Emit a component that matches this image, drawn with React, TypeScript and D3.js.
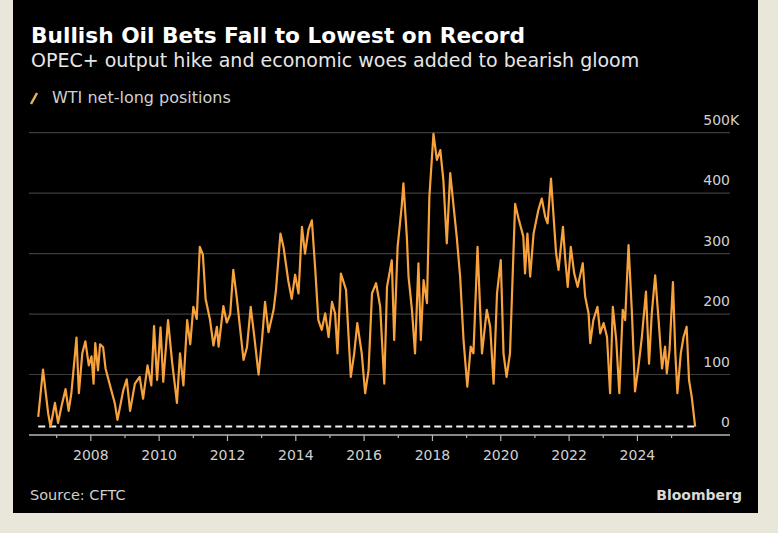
import React from "react";
import * as d3 from "d3";

const title = "Bullish Oil Bets Fall to Lowest on Record";
const subtitle = "OPEC+ output hike and economic woes added to bearish gloom";
const legendLabel = "WTI net-long positions";
const source = "Source: CFTC";
const brand = "Bloomberg";

const years = [
  2006.46, 2006.6, 2006.75, 2006.82, 2006.95, 2007.04, 2007.14, 2007.26, 2007.35, 2007.43,
  2007.58, 2007.65, 2007.75, 2007.84, 2007.94, 2008.02, 2008.08, 2008.13, 2008.21, 2008.27,
  2008.36, 2008.43, 2008.57, 2008.7, 2008.78, 2008.95, 2009.05, 2009.15, 2009.29, 2009.43,
  2009.53, 2009.66, 2009.77, 2009.85, 2009.94, 2010.04, 2010.12, 2010.26, 2010.38, 2010.47,
  2010.52, 2010.61, 2010.71, 2010.82, 2010.91, 2011.0, 2011.1, 2011.19, 2011.28, 2011.36,
  2011.49, 2011.59, 2011.69, 2011.74, 2011.88, 2011.98, 2012.08, 2012.17, 2012.27, 2012.35,
  2012.47, 2012.57, 2012.68, 2012.78, 2012.91, 2013.01, 2013.1, 2013.2, 2013.35, 2013.42,
  2013.55, 2013.64, 2013.78, 2013.88, 2013.98, 2014.08, 2014.18, 2014.27, 2014.37, 2014.47,
  2014.57, 2014.66, 2014.76, 2014.86, 2014.96, 2015.06, 2015.15, 2015.22, 2015.32, 2015.47,
  2015.54, 2015.61, 2015.71, 2015.8, 2015.93, 2016.03, 2016.13, 2016.23, 2016.35, 2016.47,
  2016.59, 2016.67, 2016.81, 2016.88, 2016.98, 2017.1, 2017.15, 2017.25, 2017.3, 2017.4,
  2017.49, 2017.59, 2017.66, 2017.74, 2017.84, 2017.91, 2018.03, 2018.13, 2018.23, 2018.32,
  2018.42, 2018.52, 2018.61, 2018.71, 2018.81, 2018.91, 2019.02, 2019.12, 2019.2, 2019.32,
  2019.45, 2019.59, 2019.69, 2019.79, 2019.89, 2020.0, 2020.08, 2020.17, 2020.27, 2020.42,
  2020.52, 2020.66, 2020.71, 2020.78, 2020.86, 2020.96, 2021.1, 2021.2, 2021.3, 2021.37,
  2021.47, 2021.54, 2021.62, 2021.69, 2021.82, 2021.89, 2021.96, 2022.05, 2022.15, 2022.25,
  2022.4, 2022.47, 2022.57, 2022.62, 2022.71, 2022.83, 2022.91, 2023.01, 2023.11, 2023.2,
  2023.28, 2023.38, 2023.47, 2023.57, 2023.64, 2023.74, 2023.84, 2023.93, 2024.03, 2024.13,
  2024.25, 2024.34, 2024.42, 2024.52, 2024.62, 2024.72, 2024.81, 2024.86, 2024.94, 2025.04,
  2025.11, 2025.17, 2025.27, 2025.35, 2025.44, 2025.51, 2025.59, 2025.69,
];

const netLong = [
  30, 108, 36, 14, 53, 20, 47, 76, 40, 69,
  161, 69, 135, 155, 115, 130, 85, 152, 107, 150,
  145, 110, 80, 53, 25, 74, 92, 40, 85, 96,
  60, 115, 82, 180, 91, 178, 88, 190, 120, 78,
  53, 135, 82, 190, 150, 212, 192, 311, 298, 225,
  190, 148, 179, 146, 213, 186, 200, 273, 228, 186,
  124, 145, 212, 165, 100, 157, 220, 170, 207, 240,
  333, 311, 255, 225, 265, 234, 344, 300, 339, 355,
  273, 190, 174, 201, 162, 220, 201, 135, 267, 240,
  168, 96, 135, 185, 135, 69, 107, 234, 251, 212,
  85, 245, 289, 157, 311, 378, 416, 328, 262, 207,
  135, 284, 157, 256, 218, 394, 498, 455, 471, 421,
  317, 433, 383, 328, 262, 157, 80, 146, 135, 311,
  135, 207, 179, 85, 234, 289, 135, 96, 135, 382,
  358, 328, 267, 333, 262, 333, 372, 391, 361, 350,
  424, 366, 300, 273, 344, 289, 245, 311, 267, 245,
  284, 229, 201, 152, 190, 212, 168, 185, 162, 69,
  212, 157, 69, 207, 190, 314, 201, 72, 113, 162,
  237, 118, 201, 264, 190, 110, 146, 102, 140, 253,
  135, 69, 135, 162, 179, 91, 63, 14,
];

const yTicks = [0, 100, 200, 300, 400, 500];
const majorYears = [2008, 2010, 2012, 2014, 2016, 2018, 2020, 2022, 2024];
const minorYears = [2007, 2009, 2011, 2013, 2015, 2017, 2019, 2021, 2023, 2025];

const W = 778;
const H = 533;
const FONT = "'DejaVu Sans', sans-serif";
const ORANGE = "#f7a23c";

export default function App() {
  const x = d3.scaleLinear().domain([2006.19, 2026.71]).range([29, 730]);
  const y = d3.scaleLinear().domain([0, 500]).range([435, 132.6]);
  const pts = years.map((yr, i) => [yr, netLong[i]] as [number, number]);
  const line = d3
    .line<[number, number]>()
    .x((d) => x(d[0]))
    .y((d) => y(d[1]))
    .curve(d3.curveLinear);
  const lastVal = netLong[netLong.length - 1];
  const x0 = x(years[0]);
  const x1 = x(years[years.length - 1]);

  return (
    <div style={{ position: "fixed", left: 0, top: 0, width: W, height: H }}>
      <svg width={W} height={H} style={{ display: "block" }} fontFamily={FONT}>
        <rect x={0} y={0} width={W} height={H} fill="#e9e6da" />
        <rect x={13} y={0} width={745} height={513} fill="#000" />

        <text x={31} y={43} fill="#fff" fontSize={21.7} fontWeight="bold">
          {title}
        </text>
        <text x={31} y={67} fill="#e6e6e6" fontSize={19}>
          {subtitle}
        </text>

        <line x1={31} y1={104} x2={37} y2={93} stroke="#e3b25a" strokeWidth={2.5} />
        <text x={52} y={103} fill="#d0d0d0" fontSize={16}>
          {legendLabel}
        </text>

        {yTicks.map((t) => (
          <g key={t}>
            {t > 0 && (
              <line x1={29} x2={730} y1={y(t)} y2={y(t)} stroke="#3d3d3d" strokeWidth={1.2} />
            )}
            <text
              x={730}
              y={y(t) - 8}
              fill="#d0d0d0"
              fontSize={14}
              textAnchor="end"
            >
              {t}
            </text>
            {t === 500 && (
              <text x={730} y={y(t) - 8} fill="#d0d0d0" fontSize={14}>
                K
              </text>
            )}
          </g>
        ))}

        <line x1={29} x2={730} y1={y(0)} y2={y(0)} stroke="#b5b5b5" strokeWidth={1.5} />
        {majorYears.map((yr) => (
          <g key={yr}>
            <line x1={x(yr)} x2={x(yr)} y1={y(0)} y2={y(0) + 6} stroke="#b5b5b5" strokeWidth={1.2} />
            <text x={x(yr)} y={460} fill="#d0d0d0" fontSize={14} textAnchor="middle">
              {yr}
            </text>
          </g>
        ))}
        {minorYears.map((yr) => (
          <line key={yr} x1={x(yr)} x2={x(yr)} y1={y(0)} y2={y(0) + 3} stroke="#b5b5b5" strokeWidth={1.2} />
        ))}

        <line
          x1={x0}
          x2={x1}
          y1={y(lastVal)}
          y2={y(lastVal)}
          stroke="#f2f2f2"
          strokeWidth={2}
          strokeDasharray="7 4"
        />

        <path d={line(pts) || ""} fill="none" stroke={ORANGE} strokeWidth={2.2} strokeLinejoin="round" />

        <text x={30} y={500} fill="#cfcfcf" fontSize={14.5}>
          {source}
        </text>
        <text x={742} y={500} fill="#d8d8d8" fontSize={14} fontWeight="bold" textAnchor="end">
          {brand}
        </text>
      </svg>
    </div>
  );
}
